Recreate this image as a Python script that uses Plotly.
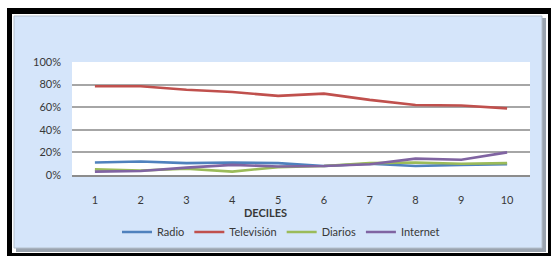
import plotly.graph_objects as go

deciles = [1, 2, 3, 4, 5, 6, 7, 8, 9, 10]
radio = [11, 12, 10.5, 11, 10.5, 8, 10, 8, 9, 9.5]
television = [78.5, 78.5, 75.5, 73.5, 70, 72, 66.5, 62, 61.5, 59]
diarios = [5, 4, 5.5, 3, 7, 8, 10.5, 11, 10, 10.5]
internet = [3, 3.5, 6.5, 9, 7.5, 8, 9.5, 14.5, 13.5, 20]

series = [
    ("Radio", radio, "#4F81BD"),
    ("Televisión", television, "#C0504D"),
    ("Diarios", diarios, "#9BBB59"),
    ("Internet", internet, "#8064A2"),
]

W, H = 551, 256
L, R, T, B = 72, 21, 62, 81
PW, PH = W - L - R, H - T - B


def px(x):
    return (x - L) / PW


def py(y):
    return (H - B - y) / PH


def rect(x0, y0, x1, y1, fill, line=None, lw=0):
    return dict(type="rect", xref="paper", yref="paper", layer="below",
                x0=px(x0), x1=px(x1), y0=py(y1), y1=py(y0),
                fillcolor=fill, line=dict(color=line or fill, width=lw))


fig = go.Figure()
for name, vals, color in series:
    fig.add_trace(go.Scatter(
        x=deciles, y=[v / 100 for v in vals], name=name, mode="lines",
        line=dict(color=color, width=2.6), hoverinfo="skip"))

shapes = [
    rect(7, 8, 560, 270, "#000000"),
    rect(12, 14, 548, 253, "#ffffff"),
    rect(16, 18, 546, 252, "#9aa3ae"),
    rect(14, 16, 542, 248, "#D5E5FA", "#b4c0cc", 1),
    rect(L, T, W - R, H - B, "#ffffff"),
]

font = "Lato, 'Liberation Sans', Arial, sans-serif"

fig.update_layout(
    width=W, height=H,
    margin=dict(l=L, r=R, t=T, b=B, pad=0, autoexpand=False),
    paper_bgcolor="#ffffff",
    plot_bgcolor="rgba(0,0,0,0)",
    shapes=shapes,
    font=dict(family=font, size=11, color="#383838"),
    showlegend=True,
    legend=dict(orientation="h", x=px(281), xanchor="center",
                y=py(232), yanchor="middle",
                bgcolor="rgba(0,0,0,0)", font=dict(size=11, color="#383838"),
                itemwidth=30, tracegroupgap=0),
    annotations=[dict(text="<b>DECILES</b>", xref="paper", yref="paper",
                      x=px(265), y=py(212), xanchor="center", yanchor="middle",
                      showarrow=False, font=dict(size=11, color="#383838"))],
    xaxis=dict(range=[0.5, 10.5], tickmode="array", tickvals=deciles,
               ticktext=[str(d) for d in deciles], showgrid=False,
               showline=True, linecolor="#8c8c8c", linewidth=2,
               zeroline=False, ticks="", ticklabelstandoff=14, automargin=False,
               tickfont=dict(size=11, color="#383838")),
    yaxis=dict(range=[0, 1], dtick=0.2, tickformat=".0%", showgrid=True,
               gridcolor="#a6a6a6", gridwidth=2, zeroline=False,
               showline=False, ticks="", ticklabelstandoff=10, automargin=False,
               tickfont=dict(size=11, color="#383838")),
)

fig.write_html("out.html",
               config={"displayModeBar": False, "staticPlot": True},
               post_script="document.body.style.margin='0';"
                           "document.body.style.overflow='hidden';")
